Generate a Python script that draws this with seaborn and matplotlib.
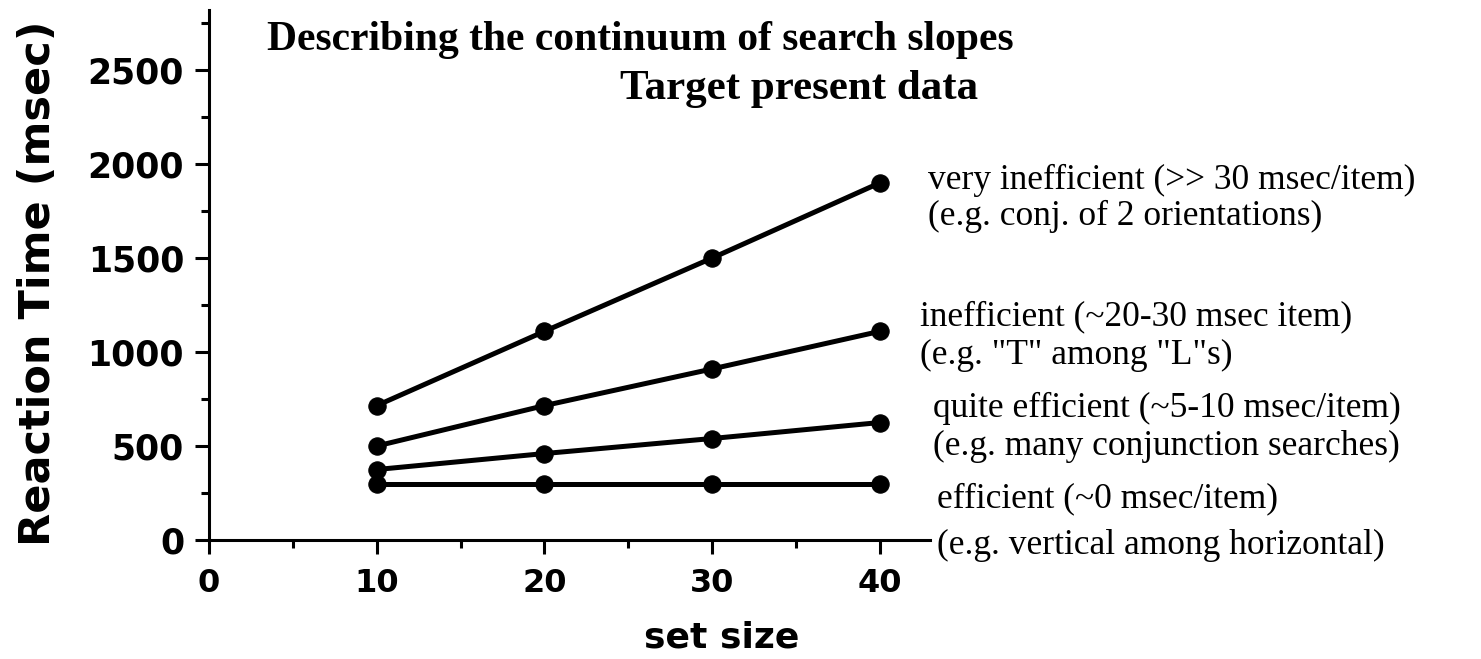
import matplotlib
matplotlib.use("Agg")
import matplotlib.pyplot as plt
from matplotlib.ticker import MultipleLocator
import numpy as np
import pandas as pd
import seaborn as sns

set_sizes = [10, 20, 30, 40]
efficient = [300, 300, 300, 300]
quite_efficient = [375, 460, 540, 625]
inefficient = [500, 715, 910, 1110]
very_inefficient = [715, 1110, 1500, 1900]

series_names = ["efficient", "quite efficient", "inefficient", "very inefficient"]
series_values = [efficient, quite_efficient, inefficient, very_inefficient]

xticks = [0, 10, 20, 30, 40]
yticks = [0, 500, 1000, 1500, 2000, 2500]

annotations = [
    ("very inefficient (>> 30 msec/item)", "(e.g. conj. of 2 orientations)"),
    ("inefficient (~20-30 msec item)", "(e.g. \"T\" among \"L\"s)"),
    ("quite efficient (~5-10 msec/item)", "(e.g. many conjunction searches)"),
    ("efficient (~0 msec/item)", "(e.g. vertical among horizontal)"),
]

rows = []
for name, vals in zip(series_names, series_values):
    for x, y in zip(set_sizes, vals):
        rows.append({"set size": x, "rt": y, "series": name})
df = pd.DataFrame(rows)

sns.set_theme(style="white")
plt.rcParams["font.family"] = ["DejaVu Sans"]
plt.rcParams["text.color"] = "black"
plt.rcParams["xtick.color"] = "black"
plt.rcParams["ytick.color"] = "black"
plt.rcParams["axes.labelcolor"] = "black"

W, H = 1481, 659
fig = plt.figure(figsize=(W / 100, H / 100), dpi=100)
ax = fig.add_axes([209 / W, 1 - 540 / H, (930 - 209) / W, (540 - 10) / H])

sns.lineplot(data=df, x="set size", y="rt", hue="series",
             palette=["black"] * 4, marker="o", markersize=12.5,
             markeredgecolor="black", linewidth=3.6, legend=False,
             estimator=None, ax=ax)

ax.set_xlim(0, 43)
ax.set_ylim(0, 2820)
ax.set_xticks(xticks)
ax.set_yticks(yticks)
ax.xaxis.set_minor_locator(MultipleLocator(5))
ax.yaxis.set_minor_locator(MultipleLocator(250))
for s in ["top", "right"]:
    ax.spines[s].set_visible(False)
for s in ["left", "bottom"]:
    ax.spines[s].set_linewidth(2.2)
    ax.spines[s].set_color("black")
ax.tick_params(which="major", direction="out", length=10, width=2.2, color="black")
ax.tick_params(which="minor", direction="out", length=6, width=2.2, color="black")
ax.tick_params(axis="x", which="both", bottom=True)
ax.tick_params(axis="y", which="both", left=True)
for lab in ax.get_xticklabels():
    lab.set_fontsize(23)
    lab.set_fontweight("bold")
    lab.set_color("black")
for lab in ax.get_yticklabels():
    lab.set_fontsize(25)
    lab.set_fontweight("bold")
    lab.set_color("black")
ax.tick_params(axis="x", pad=10)
ax.tick_params(axis="y", pad=8)
ax.set_xlabel("")
ax.set_ylabel("")
ax.grid(False)

fig.text(722 / W, 1 - 638 / H, "set size", ha="center", va="center",
         fontsize=26, fontweight="bold", color="black")
fig.text(38 / W, 1 - 283 / H, "Reaction Time (msec)", ha="center", va="center",
         rotation=90, fontsize=31, fontweight="bold", color="black")

serif = ["Liberation Serif", "DejaVu Serif"]
fig.text(640 / W, 1 - 40 / H, "Describing the continuum of search slopes",
         ha="center", va="center", fontsize=30, fontweight="bold", family=serif, color="black")
fig.text(799 / W, 1 - 89 / H, "Target present data",
         ha="center", va="center", fontsize=31, fontweight="bold", family=serif, color="black")

ann_pos = [(928, 180, 216), (920, 317, 355), (933, 408, 446), (937, 499, 545)]
for (l1, l2), (xp, y1, y2) in zip(annotations, ann_pos):
    fig.text(xp / W, 1 - y1 / H, l1, ha="left", va="center", fontsize=25.5, family=serif, color="black")
    fig.text(xp / W, 1 - y2 / H, l2, ha="left", va="center", fontsize=25.5, family=serif, color="black")

fig.savefig("out.png", dpi=100, facecolor="white")
